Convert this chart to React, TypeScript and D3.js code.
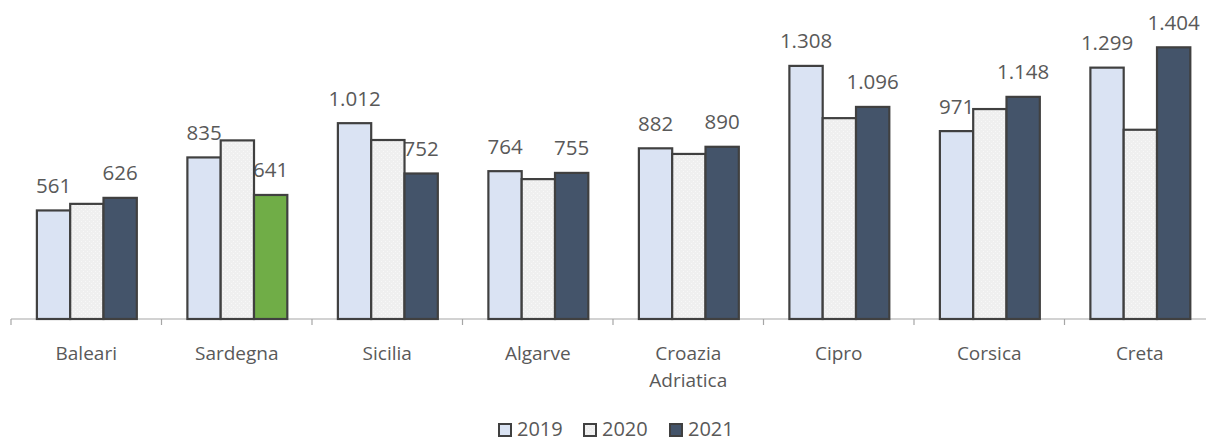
import React from "react";
import * as d3 from "d3";

const categories = ["Baleari", "Sardegna", "Sicilia", "Algarve", "Croazia Adriatica", "Cipro", "Corsica", "Creta"];
const categoryLines = [["Baleari"], ["Sardegna"], ["Sicilia"], ["Algarve"], ["Croazia", "Adriatica"], ["Cipro"], ["Corsica"], ["Creta"]];
const years = ["2019", "2020", "2021"];
const values2019 = [561, 835, 1012, 764, 882, 1308, 971, 1299];
const values2020 = [595, 923, 925, 723, 853, 1038, 1085, 978];
const values2021 = [626, 641, 752, 755, 890, 1096, 1148, 1404];
const labeledYears = ["2019", "2021"];
const highlight = { category: "Sardegna", year: "2021" };

const W = 1206;
const H = 441;
const FONT = "'Open Sans', 'Noto Sans', sans-serif";
const TEXT = "#595959";
const STROKE = "#404040";
const fills: Record<string, string> = { "2019": "#DAE3F3", "2020": "url(#dots)", "2021": "#44546A" };
const HIGHLIGHT_FILL = "#70AD47";

const locale = d3.formatLocale({ decimal: ",", thousands: ".", grouping: [3], currency: ["€", ""] });
const fmt = locale.format(",d");

export default function App() {
  const series: Record<string, number[]> = { "2019": values2019, "2020": values2020, "2021": values2021 };
  const x0 = d3.scaleBand<string>().domain(categories).range([11, 1215]).padding(0);
  const bw = x0.bandwidth();
  const x1 = d3.scaleBand<string>().domain(years).range([bw * 0.172, bw * 0.836]).padding(0);
  const y = d3.scaleLinear().domain([0, 1500]).range([319, 28.75]);
  const base = y(0);

  const bars: { key: string; x: number; y: number; w: number; h: number; fill: string }[] = [];
  const labels: { key: string; x: number; y: number; text: string }[] = [];
  categories.forEach((c, i) => {
    years.forEach((yr) => {
      const v = series[yr][i];
      const bx = (x0(c) as number) + (x1(yr) as number);
      const isHi = c === highlight.category && yr === highlight.year;
      bars.push({ key: c + yr, x: bx, y: y(v), w: x1.bandwidth(), h: base - y(v), fill: isHi ? HIGHLIGHT_FILL : fills[yr] });
      if (labeledYears.includes(yr)) {
        labels.push({ key: "l" + c + yr, x: bx + x1.bandwidth() / 2, y: y(v) - 17.5, text: fmt(v) });
      }
    });
  });

  const tickXs = [...categories.map((c) => x0(c) as number), x0.range()[1]];

  const legendX = [498, 583, 669];

  return (
    <svg width={W} height={H} style={{ position: "absolute", left: 0, top: 0, background: "#fff" }} fontFamily={FONT}>
      <defs>
        <pattern id="dots" width="4" height="4" patternUnits="userSpaceOnUse">
          <rect width="4" height="4" fill="#EFEFEF" />
          <rect x="1" y="1" width="1" height="1" fill="#F8F8F8" />
          <rect x="3" y="3" width="1" height="1" fill="#F8F8F8" />
        </pattern>
      </defs>
      {labels.map((l) => (
        <text key={l.key} x={l.x} y={l.y} textAnchor="middle" fontSize={20.5} fill={TEXT}>
          {l.text}
        </text>
      ))}
      <line x1={11} x2={W} y1={base} y2={base} stroke="#A6A6A6" strokeWidth={1.2} />
      {tickXs.map((t, i) => (
        <line key={"t" + i} x1={t} x2={t} y1={base} y2={base + 6} stroke="#A6A6A6" strokeWidth={1.2} />
      ))}
      {bars.map((b) => (
        <rect key={b.key} x={b.x} y={b.y} width={b.w} height={b.h} fill={b.fill} stroke={STROKE} strokeWidth={2.2} />
      ))}
      {categories.map((c, i) => (
        <text key={"c" + c} x={(x0(c) as number) + bw / 2} y={360} textAnchor="middle" fontSize={19} fill={TEXT}>
          {categoryLines[i].map((ln, j) => (
            <tspan key={j} x={(x0(c) as number) + bw / 2} dy={j === 0 ? 0 : 27}>
              {ln}
            </tspan>
          ))}
        </text>
      ))}
      {years.map((yr, i) => (
        <g key={"lg" + yr} transform={`translate(${legendX[i]},0)`}>
          <rect x={1} y={424} width={12} height={12} fill={fills[yr]} stroke={STROKE} strokeWidth={2} />
          <text x={19} y={435.5} fontSize={20} fill={TEXT}>
            {yr}
          </text>
        </g>
      ))}
    </svg>
  );
}
